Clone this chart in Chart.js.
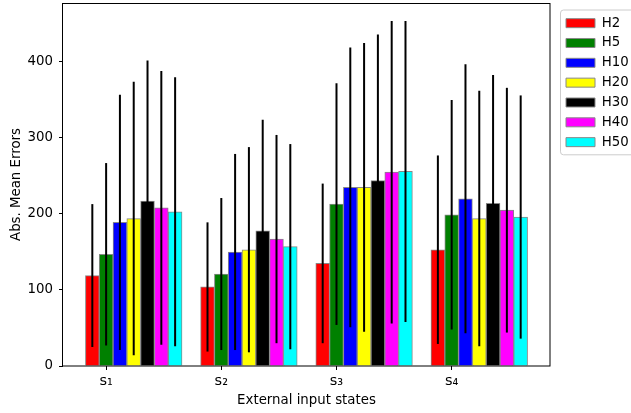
<!DOCTYPE html>
<html>
<head>
<meta charset="utf-8">
<script src="https://cdn.jsdelivr.net/npm/chart.js@4"></script>
<style>
  body { margin: 0; background: #fff; }
  canvas { display: block; }
</style>
</head>
<body>
<canvas id="chart" width="631" height="413"></canvas>
<script>
const states = ["s\u2081", "s\u2082", "s\u2083", "s\u2084"];
const seriesNames = ["H2", "H5", "H10", "H20", "H30", "H40", "H50"];
const seriesColors = ["#ff0000", "#008000", "#0000ff", "#ffff00", "#000000", "#ff00ff", "#00ffff"];

// mean absolute errors per series, one value per state
const h2Mean = [119, 104, 135, 153];
const h5Mean = [147, 121, 213, 199];
const h10Mean = [189, 150, 235, 220];
const h20Mean = [194, 153, 235, 194];
const h30Mean = [217, 178, 244, 214];
const h40Mean = [208, 167, 255, 205];
const h50Mean = [203, 157, 256, 196];

// standard deviations (error bars)
const h2Std = [94, 85, 105, 124];
const h5Std = [120, 100, 159, 151];
const h10Std = [168, 129, 184, 177];
const h20Std = [180, 135, 190, 168];
const h30Std = [185, 146, 192, 169];
const h40Std = [180, 137, 199, 161];
const h50Std = [177, 135, 198, 160];

const yTicks = [0, 100, 200, 300, 400];

const means = [h2Mean, h5Mean, h10Mean, h20Mean, h30Mean, h40Mean, h50Mean];
const stds = [h2Std, h5Std, h10Std, h20Std, h30Std, h40Std, h50Std];

Chart.defaults.font.family = "DejaVu Sans";
Chart.defaults.font.size = 13.33;
Chart.defaults.color = "#000";

const datasets = seriesNames.map((name, d) => ({
    label: name,
    data: means[d].map((v, i) => ({ x: i, y: v })),
    backgroundColor: seriesColors[d],
    borderColor: "#888888",
    borderWidth: 1,
    barThickness: 13.8
}));

const errorBars = {
    id: "errorBars",
    afterDatasetsDraw(chart) {
        const ctx = chart.ctx;
        const y = chart.scales.y;
        ctx.save();
        ctx.strokeStyle = "#000";
        ctx.lineWidth = 2;
        means.forEach((row, d) => {
            const meta = chart.getDatasetMeta(d);
            row.forEach((m, i) => {
                const bar = meta.data[i];
                ctx.beginPath();
                ctx.moveTo(bar.x, y.getPixelForValue(m + stds[d][i]));
                ctx.lineTo(bar.x, y.getPixelForValue(m - stds[d][i]));
                ctx.stroke();
            });
        });
        // axes frame
        const a = chart.chartArea;
        ctx.lineWidth = 1;
        ctx.strokeRect(Math.round(a.left) - 0.5, Math.round(a.top) + 0.5,
            Math.round(a.right - a.left) + 0.5, Math.round(a.bottom - a.top) - 0.5);
        ctx.restore();
    }
};

const legendBox = {
    id: "legendBox",
    beforeLayout(chart) {
        const lg = chart.legend;
        if (lg && !lg._fixedFit) {
            const fit = lg.fit;
            lg.fit = function () { fit.call(this); this.width = 81; };
            lg._fixedFit = true;
        }
    },
    afterUpdate(chart) {
        const lg = chart.legend;
        lg.left = chart.chartArea.right + 9.5;
        lg.top = 10;
    },
    beforeDraw(chart) {
        const lg = chart.legend;
        const ctx = chart.ctx;
        const x = lg.left + 1;
        const top = lg.top;
        const bottom = lg.top + 6.5 + 6 * 19.83 + 13.33 + 6;
        ctx.save();
        ctx.fillStyle = "#fff";
        ctx.strokeStyle = "#cccccc";
        ctx.lineWidth = 1;
        ctx.beginPath();
        ctx.roundRect(x, top, 120, bottom - top, 3);
        ctx.fill();
        ctx.stroke();
        ctx.restore();
    }
};

new Chart(document.getElementById("chart"), {
    type: "bar",
    data: { datasets: datasets },
    options: {
        responsive: false,
        animation: false,
        layout: { padding: { top: 3, left: 0, right: 0, bottom: 0 } },
        plugins: {
            legend: {
                position: "right",
                align: "start",
                labels: {
                    boxWidth: 29,
                    boxHeight: 9,
                    padding: 6.5,
                    color: "#000"
                }
            },
            tooltip: { enabled: false }
        },
        scales: {
            x: {
                type: "linear",
                offset: false,
                min: -0.614,
                max: 3.614,
                afterFit(scale) {
                    scale.height = 47;
                    scale.paddingLeft = 0;
                    scale.paddingRight = 0;
                },
                afterBuildTicks(scale) {
                    scale.ticks = states.map((s, i) => ({ value: i - 0.24 }));
                },
                ticks: {
                    callback: (value, index) => states[index],
                    padding: 3,
                    maxRotation: 0,
                    font: { size: 14.5 }
                },
                grid: { offset: false, drawOnChartArea: false, drawTicks: true, tickLength: 4, color: "#000" },
                border: { display: false },
                title: {
                    display: true,
                    text: "External input states",
                    padding: { top: 0, bottom: 4.9 }
                }
            },
            y: {
                min: 0,
                max: 477.6,
                afterFit(scale) {
                    scale.width = 63;
                    scale.paddingTop = 0;
                    scale.paddingBottom = 0;
                },
                afterBuildTicks(scale) {
                    scale.ticks = yTicks.map(v => ({ value: v }));
                },
                ticks: { padding: 6 },
                grid: { drawOnChartArea: false, drawTicks: true, tickLength: 4, color: "#000" },
                border: { display: false },
                title: {
                    display: true,
                    text: "Abs. Mean Errors",
                    padding: { top: 8.6, bottom: 0 }
                }
            }
        }
    },
    plugins: [errorBars, legendBox]
});
</script>
</body>
</html>
